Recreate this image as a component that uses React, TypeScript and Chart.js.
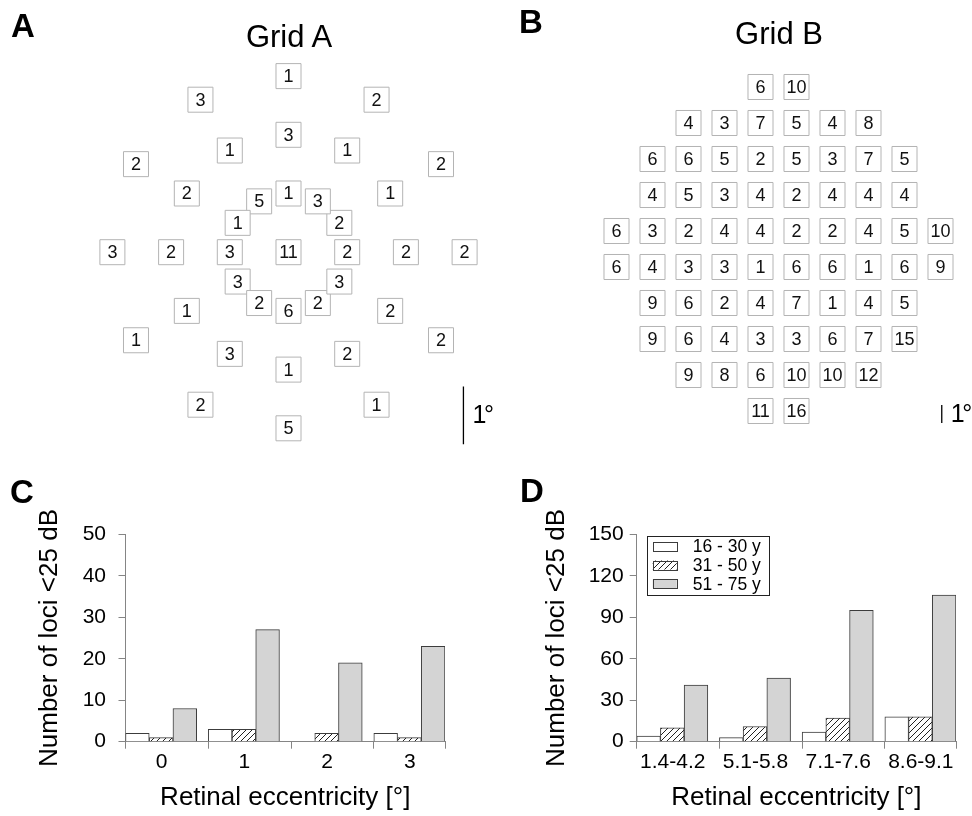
import React, { useEffect, useRef } from 'react';
import { Chart, registerables } from 'chart.js';

Chart.register(...registerables);

const FONT = '"Liberation Sans", Arial, Helvetica, sans-serif';

// ---------- Grid A: loci on rings (eccentricity in degrees), 12 loci per ring at 30° steps ----------
const gridACenterCount = 11;
const gridAAnglesDeg = [0, 30, 60, 90, 120, 150, 180, 210, 240, 270, 300, 330];
const gridARingEcc = [1, 2, 3];
const gridARing1 = [2, 2, 3, 1, 5, 1, 3, 3, 2, 6, 2, 3];
const gridARing2 = [2, 1, 1, 3, 1, 2, 2, 1, 3, 1, 2, 2];
const gridARing3 = [2, 2, 2, 1, 3, 2, 3, 1, 2, 5, 1, 2];

// ---------- Grid B: square grid, 2° spacing, rows from top (y = +9°) to bottom (y = -9°) ----------
const gridBRowY = [9, 7, 5, 3, 1, -1, -3, -5, -7, -9];
const gridBRowStartX = [-1, -5, -7, -7, -9, -9, -7, -7, -5, -1];
const gridBRow1 = [6, 10];
const gridBRow2 = [4, 3, 7, 5, 4, 8];
const gridBRow3 = [6, 6, 5, 2, 5, 3, 7, 5];
const gridBRow4 = [4, 5, 3, 4, 2, 4, 4, 4];
const gridBRow5 = [6, 3, 2, 4, 4, 2, 2, 4, 5, 10];
const gridBRow6 = [6, 4, 3, 3, 1, 6, 6, 1, 6, 9];
const gridBRow7 = [9, 6, 2, 4, 7, 1, 4, 5];
const gridBRow8 = [9, 6, 4, 3, 3, 6, 7, 15];
const gridBRow9 = [9, 8, 6, 10, 10, 12];
const gridBRow10 = [11, 16];

// ---------- Panel C ----------
const cCategories = ['0', '1', '2', '3'];
const cAge16to30 = [2, 3, 0, 2];
const cAge31to50 = [1, 3, 2, 1];
const cAge51to75 = [8, 27, 19, 23];

// ---------- Panel D ----------
const dCategories = ['1.4-4.2', '5.1-5.8', '7.1-7.6', '8.6-9.1'];
const dAge16to30 = [4, 3, 7, 18];
const dAge31to50 = [10, 11, 17, 18];
const dAge51to75 = [41, 46, 95, 106];

const seriesLabels = ['16 - 30 y', '31 - 50 y', '51 - 75 y'];

// ---------------------------------------------------------------------------------------------

type Pt = { x: number; y: number; v: number };

function buildGridA(): Pt[] {
  const pts: Pt[] = [{ x: 0, y: 0, v: gridACenterCount }];
  const rings = [gridARing1, gridARing2, gridARing3];
  rings.forEach((ring, r) => {
    const ecc = gridARingEcc[r];
    ring.forEach((v, i) => {
      const a = (gridAAnglesDeg[i] * Math.PI) / 180;
      pts.push({ x: ecc * Math.cos(a), y: ecc * Math.sin(a), v });
    });
  });
  return pts;
}

function buildGridB(): Pt[] {
  const rows = [gridBRow1, gridBRow2, gridBRow3, gridBRow4, gridBRow5, gridBRow6, gridBRow7, gridBRow8, gridBRow9, gridBRow10];
  const pts: Pt[] = [];
  rows.forEach((row, r) => {
    row.forEach((v, j) => {
      pts.push({ x: gridBRowStartX[r] + 2 * j, y: gridBRowY[r], v });
    });
  });
  return pts;
}

const gridLabelPlugin = {
  id: 'gridLabels',
  afterDatasetsDraw(chart: any) {
    const ctx = chart.ctx;
    const meta = chart.getDatasetMeta(0);
    const data = chart.data.datasets[0].data as Pt[];
    ctx.save();
    ctx.font = `18px ${FONT}`;
    ctx.fillStyle = '#111';
    ctx.textAlign = 'center';
    ctx.textBaseline = 'middle';
    meta.data.forEach((el: any, i: number) => {
      ctx.fillText(String(data[i].v), el.x, el.y + 1);
    });
    // scale bar label "1°"
    const bar = chart.getDatasetMeta(1).data;
    if (bar.length === 2) {
      const bx = bar[0].x;
      const by = (bar[0].y + bar[1].y) / 2;
      ctx.font = `25px ${FONT}`;
      ctx.fillStyle = '#000';
      ctx.textAlign = 'left';
      ctx.fillText('1', bx + 9, by + 1);
      ctx.fillText('°', bx + 20.5, by + 1);
    }
    ctx.restore();
  },
};

function gridConfig(points: Pt[], scaleBar: { x: number; y: number }[], view: { xmin: number; xmax: number; ymin: number; ymax: number }) {
  return {
    type: 'scatter',
    data: {
      datasets: [
        {
          data: points,
          pointStyle: 'rect',
          pointRadius: 17.68,
          pointBackgroundColor: '#ffffff',
          pointBorderColor: '#b4b4b4',
          pointBorderWidth: 1,
          showLine: false,
          clip: false,
        },
        {
          data: scaleBar,
          showLine: true,
          pointRadius: 0,
          borderColor: '#000',
          borderWidth: 1.3,
          clip: false,
        },
      ],
    },
    options: {
      animation: false,
      responsive: false,
      events: [],
      layout: { padding: 0, autoPadding: false },
      plugins: { legend: { display: false }, tooltip: { enabled: false }, title: { display: false } },
      scales: {
        x: { type: 'linear', display: false, offset: false, min: view.xmin, max: view.xmax },
        y: { type: 'linear', display: false, offset: false, min: view.ymin, max: view.ymax },
      },
    },
    plugins: [gridLabelPlugin],
  };
}

function makeHatch(): CanvasPattern | string {
  const c = document.createElement('canvas');
  c.width = 6;
  c.height = 6;
  const g = c.getContext('2d');
  if (!g) return '#fff';
  g.fillStyle = '#fff';
  g.fillRect(0, 0, 6, 6);
  g.strokeStyle = '#222';
  g.lineWidth = 1;
  g.beginPath();
  g.moveTo(0, 6);
  g.lineTo(6, 0);
  g.moveTo(-1, 1);
  g.lineTo(1, -1);
  g.moveTo(5, 7);
  g.lineTo(7, 5);
  g.stroke();
  return g.createPattern(c, 'repeat') || '#fff';
}

const boxLegendPlugin = {
  id: 'boxLegend',
  afterDraw(chart: any, _args: any, opts: any) {
    if (!opts || !opts.show) return;
    const { ctx, chartArea } = chart;
    const x0 = chartArea.left + 10;
    const y0 = chartArea.top + 2;
    const w = 122;
    const h = 59;
    ctx.save();
    ctx.fillStyle = '#fff';
    ctx.fillRect(x0, y0, w, h);
    ctx.strokeStyle = '#222';
    ctx.lineWidth = 1;
    ctx.strokeRect(Math.round(x0) + 0.5, Math.round(y0) + 0.5, w, h);
    chart.data.datasets.forEach((ds: any, i: number) => {
      const cy = y0 + 10 + i * 18.7;
      ctx.fillStyle = ds.backgroundColor;
      ctx.fillRect(x0 + 6, cy - 4.5, 24, 9);
      ctx.strokeStyle = ds.borderColor;
      ctx.strokeRect(Math.round(x0 + 6) + 0.5, Math.round(cy - 4.5) + 0.5, 24, 9);
      ctx.fillStyle = '#000';
      ctx.font = `17.5px ${FONT}`;
      ctx.textAlign = 'left';
      ctx.textBaseline = 'middle';
      ctx.fillText(ds.label, x0 + 46, cy + 1);
    });
    ctx.restore();
  },
};

const GROUP = 0.86; // fraction of a category occupied by the bar group (bars start at left boundary)

function barConfig(p: {
  categories: string[];
  s1: number[];
  s2: number[];
  s3: number[];
  yMax: number;
  yStep: number;
  canvasW: number;
  areaLeft: number;
  areaRight: number;
  yTitleLeft: number;
  yTickPad: number;
  labelOffset: number;
  legend: boolean;
  hatch: CanvasPattern | string;
}) {
  const n = p.categories.length;
  const xs = p.categories.map((_, i) => i - 0.5 + GROUP / 2);
  const boundaries = p.categories.map((_, i) => i - 0.5).concat([n - 1.5 + GROUP]);
  const mk = (arr: number[]) => arr.map((y, i) => ({ x: xs[i], y }));
  const axisGray = '#858585';
  const barBorder = '#3c3c3c';
  return {
    type: 'bar',
    data: {
      datasets: [
        { label: seriesLabels[0], data: mk(p.s1), backgroundColor: '#ffffff', borderColor: barBorder, borderWidth: 1 },
        { label: seriesLabels[1], data: mk(p.s2), backgroundColor: p.hatch, borderColor: barBorder, borderWidth: 1 },
        { label: seriesLabels[2], data: mk(p.s3), backgroundColor: '#d4d4d4', borderColor: barBorder, borderWidth: 1 },
      ],
    },
    options: {
      animation: false,
      responsive: false,
      events: [],
      layout: { padding: { left: 0, top: 74.3, right: p.canvasW - p.areaRight, bottom: 0 }, autoPadding: false },
      datasets: { bar: { categoryPercentage: 1, barPercentage: 1 } },
      plugins: {
        legend: { display: false },
        tooltip: { enabled: false },
        title: { display: false },
        boxLegend: { show: p.legend },
      },
      scales: {
        x: {
          type: 'linear',
          offset: false,
          min: -0.5,
          max: n - 1.5 + GROUP,
          bounds: 'data',
          afterBuildTicks: (s: any) => {
            s.ticks = boundaries.map((v) => ({ value: v }));
          },
          afterFit: (s: any) => {
            s.height = 74.3;
          },
          ticks: {
            autoSkip: false,
            maxRotation: 0,
            minRotation: 0,
            labelOffset: p.labelOffset,
            padding: 1.2,
            color: '#000',
            font: { family: FONT, size: 21 },
            callback: (_v: any, i: number) => (i < n ? p.categories[i] : ''),
          },
          grid: { display: true, offset: false, drawOnChartArea: false, drawTicks: true, tickLength: 7, color: axisGray, lineWidth: 1 },
          border: { display: true, color: axisGray, width: 1 },
          title: {
            display: true,
            text: 'Retinal eccentricity [°]',
            color: '#000',
            font: { family: FONT, size: 26 },
            padding: { top: 0, bottom: 2.4 },
          },
        },
        y: {
          type: 'linear',
          min: 0,
          max: p.yMax,
          afterFit: (s: any) => {
            s.width = p.areaLeft;
          },
          ticks: {
            stepSize: p.yStep,
            padding: p.yTickPad,
            color: '#000',
            font: { family: FONT, size: 21 },
          },
          grid: { display: true, drawOnChartArea: false, drawTicks: true, tickLength: 7, color: axisGray, lineWidth: 1 },
          border: { display: true, color: axisGray, width: 1 },
          title: {
            display: true,
            text: 'Number of loci <25 dB',
            color: '#000',
            font: { family: FONT, size: 26 },
            padding: { top: p.yTitleLeft - 15.6, bottom: 0 },
          },
        },
      },
    },
    plugins: [boxLegendPlugin],
  };
}

function ChartCanvas({ left, top, width, height, make }: { left: number; top: number; width: number; height: number; make: () => any }) {
  const ref = useRef<HTMLCanvasElement | null>(null);
  useEffect(() => {
    if (!ref.current) return;
    const chart = new Chart(ref.current, make());
    return () => chart.destroy();
  }, []);
  return (
    <canvas
      ref={ref}
      width={width}
      height={height}
      style={{ position: 'absolute', left, top, width, height, display: 'block' }}
    />
  );
}

function Label({ text, left, top, size, bold, width, align }: { text: string; left: number; top: number; size: number; bold?: boolean; width?: number; align?: 'left' | 'center' }) {
  return (
    <div
      style={{
        position: 'absolute',
        left,
        top,
        width: width ?? 'auto',
        textAlign: align ?? 'left',
        fontFamily: FONT,
        fontSize: size,
        lineHeight: `${size}px`,
        fontWeight: bold ? 700 : 400,
        color: '#000',
        whiteSpace: 'nowrap',
      }}
    >
      {text}
    </div>
  );
}

export default function App() {
  const A_W = 500; // canvas width for grid A (slightly overlaps grid B's transparent canvas)
  const A_PX = 58.7; // pixels per degree, grid A
  const A_CX = 288.5;
  const A_CY = 252.2;
  const B_PX = 18; // pixels per degree, grid B
  const B_CX = 292.5;
  const B_CY = 249;

  const makeA = () =>
    gridConfig(
      buildGridA(),
      [
        { x: 2.98, y: -2.29 },
        { x: 2.98, y: -3.27 },
      ],
      { xmin: -A_CX / A_PX, xmax: (A_W - A_CX) / A_PX, ymin: -(460 - A_CY) / A_PX, ymax: A_CY / A_PX }
    );
  const makeB = () =>
    gridConfig(
      buildGridB(),
      [
        { x: 9.07, y: -8.67 },
        { x: 9.07, y: -9.67 },
      ],
      { xmin: -B_CX / B_PX, xmax: (486 - B_CX) / B_PX, ymin: -(460 - B_CY) / B_PX, ymax: B_CY / B_PX }
    );
  const makeC = () =>
    barConfig({
      categories: cCategories,
      s1: cAge16to30,
      s2: cAge31to50,
      s3: cAge51to75,
      yMax: 50,
      yStep: 10,
      canvasW: 486,
      areaLeft: 125.5,
      areaRight: 445,
      yTitleLeft: 50,
      yTickPad: 12.5,
      labelOffset: 36,
      legend: false,
      hatch: makeHatch(),
    });
  const makeD = () =>
    barConfig({
      categories: dCategories,
      s1: dAge16to30,
      s2: dAge31to50,
      s3: dAge51to75,
      yMax: 150,
      yStep: 30,
      canvasW: 486,
      areaLeft: 150.7,
      areaRight: 470,
      yTitleLeft: 71,
      yTickPad: 6,
      labelOffset: 36,
      legend: true,
      hatch: makeHatch(),
    });

  return (
    <div style={{ position: 'absolute', left: 0, top: 0, width: 972, height: 816, background: '#fff', overflow: 'hidden' }}>
      <ChartCanvas left={0} top={0} width={A_W} height={460} make={makeA} />
      <ChartCanvas left={486} top={0} width={486} height={460} make={makeB} />
      <ChartCanvas left={0} top={460} width={486} height={356} make={makeC} />
      <ChartCanvas left={486} top={460} width={486} height={356} make={makeD} />
      <Label text="A" left={11} top={8.8} size={33} bold />
      <Label text="B" left={519} top={5.4} size={33} bold />
      <Label text="C" left={10} top={475} size={33} bold />
      <Label text="D" left={520} top={473.8} size={33} bold />
      <Label text="Grid A" left={189} top={20.8} size={31} width={200} align="center" />
      <Label text="Grid B" left={679} top={18.4} size={31} width={200} align="center" />
    </div>
  );
}
